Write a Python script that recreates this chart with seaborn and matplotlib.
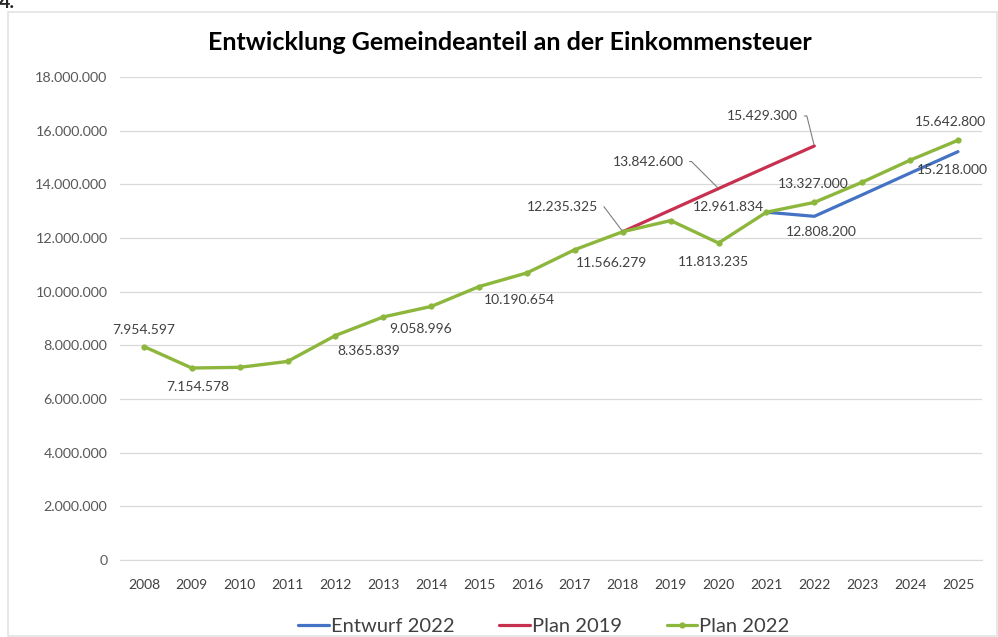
import matplotlib
matplotlib.use("Agg")
import matplotlib.pyplot as plt
import seaborn as sns
import numpy as np
import pandas as pd
from matplotlib.lines import Line2D
from matplotlib.patches import Rectangle

# data
years = [str(y) for y in range(2008, 2026)]
plan_2022 = [7954597, 7154578, 7180000, 7400000, 8365839, 9058996, 9450000, 10190654, 10700000,
             11566279, 12235325, 12650000, 11813235, 12961834, 13327000, 14080000, 14900000, 15642800]
# earlier years of these two lie under the green line
entwurf_2022 = [np.nan] * 13 + [12961834, 12808200, 13610000, 14420000, 15218000]
plan_2019 = [np.nan] * 10 + [12235325, 13040000, 13842600, 14640000, 15429300, np.nan, np.nan, np.nan]

series_names = ["Entwurf 2022", "Plan 2019", "Plan 2022"]
colors = {"Entwurf 2022": "#4472C4", "Plan 2019": "#C8304F", "Plan 2022": "#8DB63C"}

# (series, year, label, dx px, dy px, leader angle or None)
labels = [
    ("Plan 2022", "2008", "7.954.597", 0, 17, None),
    ("Plan 2022", "2009", "7.154.578", 6, -19, None),
    ("Plan 2022", "2012", "8.365.839", 33, -15, None),
    ("Plan 2022", "2013", "9.058.996", 37, -12, None),
    ("Plan 2022", "2015", "10.190.654", 40, -13, None),
    ("Plan 2022", "2017", "11.566.279", 37, -13, None),
    ("Plan 2022", "2018", "12.235.325", -25, 25, 53),
    ("Plan 2019", "2020", "13.842.600", -35, 27, 45),
    ("Plan 2019", "2022", "15.429.300", -16, 30, 76),
    ("Plan 2022", "2021", "12.961.834", -38, 5, None),
    ("Entwurf 2022", "2022", "12.808.200", 7, -16, None),
    ("Plan 2022", "2020", "11.813.235", -5, -19, None),
    ("Plan 2022", "2022", "13.327.000", -1, 18, None),
    ("Entwurf 2022", "2025", "15.218.000", -6, -18, None),
    ("Plan 2022", "2025", "15.642.800", -8, 18, None),
]

sns.set_style("white")
plt.rcParams["font.family"] = ["Lato", "DejaVu Sans"]

fig = plt.figure(figsize=(9.98, 6.37), dpi=100)
ax = fig.add_axes([0.1202, 0.1209, 0.8637, 0.7582])

df = pd.DataFrame({"Jahr": years, "Entwurf 2022": entwurf_2022,
                   "Plan 2019": plan_2019, "Plan 2022": plan_2022})
x_idx = np.arange(len(years))
sns.lineplot(x=x_idx, y=df["Entwurf 2022"], ax=ax, color=colors["Entwurf 2022"], lw=2.3, zorder=3)
sns.lineplot(x=x_idx, y=df["Plan 2019"], ax=ax, color=colors["Plan 2019"], lw=2.3, zorder=4)
sns.lineplot(x=x_idx, y=df["Plan 2022"], ax=ax, color=colors["Plan 2022"], lw=2.4, zorder=5,
             marker="o", markersize=4.5, markeredgewidth=0)

ax.set_xlim(-0.5, len(years) - 0.5)
ax.set_ylim(0, 18000000)
ax.set_xticks(x_idx)
ax.set_xticklabels(years)
yt = np.arange(0, 18000001, 2000000)
ax.set_yticks(yt)
ax.set_yticklabels(["0" if v == 0 else f"{v:,.0f}".replace(",", ".") for v in yt])
ax.tick_params(axis="y", length=0, pad=9, labelsize=10.3, labelcolor="#595959")
ax.tick_params(axis="x", length=0, pad=14, labelsize=10, labelcolor="#404040")
ax.grid(axis="y", color="#D9D9D9", lw=0.9)
ax.set_axisbelow(True)
for s in ["top", "right", "left"]:
    ax.spines[s].set_visible(False)
ax.spines["bottom"].set_color("#D9D9D9")
ax.set_xlabel("")
ax.set_ylabel("")

series = {"Entwurf 2022": entwurf_2022, "Plan 2019": plan_2019, "Plan 2022": plan_2022}
for name, yr, txt, dx, dy, angle in labels:
    i = years.index(yr)
    v = series[name][i]
    if angle is not None:
        # callout: short horizontal piece, then slanted down to the point
        ax.annotate(txt, xy=(i, v), xytext=(dx, dy), textcoords="offset pixels",
                    ha="right", va="center", fontsize=10, color="#404040", zorder=6,
                    arrowprops=dict(arrowstyle="-", color="#7F7F7F", lw=0.8,
                                    shrinkA=2, shrinkB=1,
                                    connectionstyle=f"angle,angleA=0,angleB={180 - angle},rad=0"))
    else:
        ax.annotate(txt, xy=(i, v), xytext=(dx, dy), textcoords="offset pixels",
                    ha="center", va="center", fontsize=10, color="#404040", zorder=6)

fig.text(0.511, 0.934, "Entwicklung Gemeindeanteil an der Einkommensteuer",
         ha="center", va="center", fontsize=18, fontweight="bold", color="#000000")

handles = [Line2D([], [], color=colors["Entwurf 2022"], lw=2.3),
           Line2D([], [], color=colors["Plan 2019"], lw=2.3),
           Line2D([], [], color=colors["Plan 2022"], lw=2.3, marker="o", markersize=4.5, markeredgewidth=0)]
fig.legend(handles, series_names, loc="center", bbox_to_anchor=(0.545, 0.016), ncol=3,
           frameon=False, fontsize=14.5, handlelength=1.5, handletextpad=0.1, columnspacing=2.25,
           labelcolor="#404040")

fig.patches.append(Rectangle((8 / 998, 1 / 637), 989 / 998, 624 / 637, transform=fig.transFigure,
                             fill=False, edgecolor="#E3E3E3", lw=1.2))
fig.text(-0.001, 0.9874, "4.", ha="left", va="baseline", fontsize=14, fontweight="bold")

fig.savefig("out.png", dpi=100)
